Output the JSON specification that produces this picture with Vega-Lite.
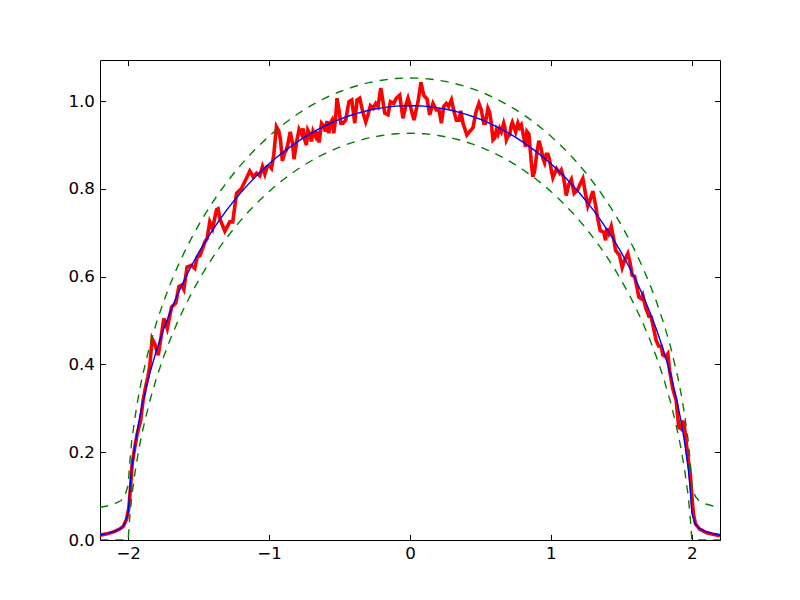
{
  "$schema": "https://vega.github.io/schema/vega-lite/v6.json",
  "width": 620,
  "height": 480,
  "autosize": "none",
  "padding": {"left": 100, "top": 60, "right": 80, "bottom": 60},
  "background": "white",
  "config": {
    "view": {"stroke": "black", "strokeWidth": 1},
    "axis": {"grid": false, "domain": false, "tickColor": "black", "labelColor": "black", "labelFont": "DejaVu Sans", "labelFontSize": 16.67, "tickSize": -5.6, "labelPadding": 11.2, "tickWidth": 1}
  },
  "datasets": {
    "red": [
      {"x":-2.200,"y":0.011},{"x":-2.150,"y":0.014},{"x":-2.100,"y":0.019},{"x":-2.060,"y":0.025},{"x":-2.035,"y":0.031},{"x":-2.011,"y":0.048},{"x":-1.995,"y":0.074},{"x":-1.983,"y":0.120},{"x":-1.972,"y":0.173},{"x":-1.957,"y":0.204},{"x":-1.936,"y":0.242},{"x":-1.912,"y":0.272},{"x":-1.894,"y":0.318},{"x":-1.877,"y":0.348},{"x":-1.860,"y":0.372},{"x":-1.846,"y":0.398},{"x":-1.830,"y":0.459},{"x":-1.811,"y":0.447},{"x":-1.787,"y":0.421},{"x":-1.763,"y":0.470},{"x":-1.747,"y":0.505},{"x":-1.723,"y":0.482},{"x":-1.692,"y":0.531},{"x":-1.662,"y":0.540},{"x":-1.640,"y":0.578},{"x":-1.621,"y":0.581},{"x":-1.605,"y":0.571},{"x":-1.582,"y":0.622},{"x":-1.551,"y":0.626},{"x":-1.527,"y":0.619},{"x":-1.510,"y":0.645},{"x":-1.491,"y":0.648},{"x":-1.475,"y":0.662},{"x":-1.456,"y":0.679},{"x":-1.440,"y":0.687},{"x":-1.421,"y":0.725},{"x":-1.401,"y":0.710},{"x":-1.373,"y":0.753},{"x":-1.362,"y":0.755},{"x":-1.350,"y":0.733},{"x":-1.314,"y":0.704},{"x":-1.279,"y":0.725},{"x":-1.258,"y":0.725},{"x":-1.231,"y":0.790},{"x":-1.196,"y":0.801},{"x":-1.160,"y":0.825},{"x":-1.137,"y":0.841},{"x":-1.113,"y":0.828},{"x":-1.089,"y":0.836},{"x":-1.066,"y":0.830},{"x":-1.047,"y":0.851},{"x":-1.030,"y":0.834},{"x":-1.014,"y":0.851},{"x":-0.995,"y":0.852},{"x":-0.983,"y":0.847},{"x":-0.967,"y":0.877},{"x":-0.948,"y":0.942},{"x":-0.931,"y":0.932},{"x":-0.919,"y":0.912},{"x":-0.906,"y":0.864},{"x":-0.889,"y":0.883},{"x":-0.877,"y":0.889},{"x":-0.865,"y":0.905},{"x":-0.850,"y":0.930},{"x":-0.834,"y":0.905},{"x":-0.823,"y":0.868},{"x":-0.806,"y":0.905},{"x":-0.787,"y":0.936},{"x":-0.770,"y":0.925},{"x":-0.759,"y":0.938},{"x":-0.747,"y":0.912},{"x":-0.735,"y":0.900},{"x":-0.725,"y":0.934},{"x":-0.711,"y":0.925},{"x":-0.699,"y":0.908},{"x":-0.688,"y":0.932},{"x":-0.669,"y":0.919},{"x":-0.660,"y":0.931},{"x":-0.645,"y":0.906},{"x":-0.628,"y":0.950},{"x":-0.612,"y":0.944},{"x":-0.600,"y":0.931},{"x":-0.589,"y":0.955},{"x":-0.577,"y":0.927},{"x":-0.565,"y":0.950},{"x":-0.553,"y":0.957},{"x":-0.541,"y":0.927},{"x":-0.529,"y":0.957},{"x":-0.518,"y":1.007},{"x":-0.504,"y":0.980},{"x":-0.491,"y":0.950},{"x":-0.475,"y":0.950},{"x":-0.456,"y":0.957},{"x":-0.444,"y":0.980},{"x":-0.433,"y":0.999},{"x":-0.413,"y":1.003},{"x":-0.392,"y":0.950},{"x":-0.376,"y":1.003},{"x":-0.357,"y":1.007},{"x":-0.333,"y":0.973},{"x":-0.314,"y":0.953},{"x":-0.298,"y":0.969},{"x":-0.281,"y":0.990},{"x":-0.262,"y":0.984},{"x":-0.243,"y":0.995},{"x":-0.227,"y":0.988},{"x":-0.207,"y":1.030},{"x":-0.179,"y":0.973},{"x":-0.156,"y":0.969},{"x":-0.139,"y":0.999},{"x":-0.116,"y":0.995},{"x":-0.096,"y":1.007},{"x":-0.073,"y":1.014},{"x":-0.050,"y":0.961},{"x":-0.026,"y":0.995},{"x":-0.014,"y":1.007},{"x":0.003,"y":0.988},{"x":0.028,"y":0.957},{"x":0.057,"y":0.999},{"x":0.078,"y":1.043},{"x":0.097,"y":1.014},{"x":0.121,"y":1.005},{"x":0.140,"y":0.969},{"x":0.163,"y":0.995},{"x":0.187,"y":0.980},{"x":0.206,"y":0.980},{"x":0.223,"y":0.950},{"x":0.239,"y":0.988},{"x":0.258,"y":0.995},{"x":0.274,"y":0.988},{"x":0.294,"y":1.003},{"x":0.310,"y":0.980},{"x":0.329,"y":0.957},{"x":0.348,"y":0.957},{"x":0.360,"y":0.978},{"x":0.376,"y":0.950},{"x":0.404,"y":0.923},{"x":0.423,"y":0.931},{"x":0.447,"y":0.940},{"x":0.468,"y":0.975},{"x":0.489,"y":0.995},{"x":0.506,"y":0.980},{"x":0.523,"y":0.950},{"x":0.535,"y":0.950},{"x":0.553,"y":0.984},{"x":0.565,"y":0.975},{"x":0.577,"y":0.950},{"x":0.589,"y":0.912},{"x":0.601,"y":0.916},{"x":0.613,"y":0.934},{"x":0.624,"y":0.925},{"x":0.636,"y":0.938},{"x":0.648,"y":0.930},{"x":0.665,"y":0.950},{"x":0.672,"y":0.942},{"x":0.684,"y":0.912},{"x":0.695,"y":0.920},{"x":0.707,"y":0.923},{"x":0.719,"y":0.946},{"x":0.726,"y":0.952},{"x":0.750,"y":0.930},{"x":0.766,"y":0.950},{"x":0.778,"y":0.940},{"x":0.790,"y":0.946},{"x":0.806,"y":0.920},{"x":0.821,"y":0.896},{"x":0.830,"y":0.931},{"x":0.844,"y":0.925},{"x":0.861,"y":0.860},{"x":0.872,"y":0.828},{"x":0.884,"y":0.840},{"x":0.901,"y":0.885},{"x":0.915,"y":0.910},{"x":0.932,"y":0.890},{"x":0.943,"y":0.870},{"x":0.955,"y":0.860},{"x":0.967,"y":0.879},{"x":0.979,"y":0.879},{"x":0.991,"y":0.866},{"x":1.003,"y":0.843},{"x":1.014,"y":0.826},{"x":1.040,"y":0.846},{"x":1.062,"y":0.836},{"x":1.074,"y":0.843},{"x":1.090,"y":0.826},{"x":1.109,"y":0.785},{"x":1.126,"y":0.810},{"x":1.145,"y":0.822},{"x":1.165,"y":0.790},{"x":1.188,"y":0.797},{"x":1.210,"y":0.813},{"x":1.227,"y":0.824},{"x":1.245,"y":0.790},{"x":1.262,"y":0.761},{"x":1.276,"y":0.773},{"x":1.298,"y":0.795},{"x":1.317,"y":0.763},{"x":1.333,"y":0.731},{"x":1.350,"y":0.705},{"x":1.374,"y":0.702},{"x":1.388,"y":0.683},{"x":1.397,"y":0.710},{"x":1.411,"y":0.699},{"x":1.428,"y":0.715},{"x":1.445,"y":0.687},{"x":1.459,"y":0.660},{"x":1.487,"y":0.649},{"x":1.506,"y":0.621},{"x":1.523,"y":0.638},{"x":1.546,"y":0.653},{"x":1.563,"y":0.630},{"x":1.577,"y":0.603},{"x":1.594,"y":0.601},{"x":1.610,"y":0.577},{"x":1.624,"y":0.554},{"x":1.641,"y":0.550},{"x":1.652,"y":0.558},{"x":1.671,"y":0.531},{"x":1.695,"y":0.510},{"x":1.712,"y":0.508},{"x":1.728,"y":0.484},{"x":1.747,"y":0.455},{"x":1.765,"y":0.442},{"x":1.783,"y":0.441},{"x":1.794,"y":0.422},{"x":1.813,"y":0.418},{"x":1.830,"y":0.425},{"x":1.842,"y":0.387},{"x":1.865,"y":0.345},{"x":1.889,"y":0.318},{"x":1.897,"y":0.290},{"x":1.908,"y":0.257},{"x":1.925,"y":0.253},{"x":1.936,"y":0.272},{"x":1.948,"y":0.257},{"x":1.972,"y":0.189},{"x":1.989,"y":0.151},{"x":2.003,"y":0.090},{"x":2.012,"y":0.059},{"x":2.026,"y":0.037},{"x":2.055,"y":0.025},{"x":2.102,"y":0.017},{"x":2.150,"y":0.013},{"x":2.200,"y":0.010}
    ],
    "blue": [
      {"x":-2.2,"y":0.0115},{"x":-2.15,"y":0.0145},{"x":-2.1,"y":0.019},{"x":-2.05,"y":0.027},{"x":-2.025,"y":0.036},{"x":-2.0,"y":0.062},{"x":-1.99,"y":0.110},{"x":-1.975,"y":0.162},{"x":-1.95,"y":0.220},{"x":-1.925,"y":0.2686},{"x":-1.9,"y":0.3091},{"x":-1.85,"y":0.3762},{"x":-1.8,"y":0.4315},{"x":-1.75,"y":0.4793},{"x":-1.7,"y":0.5215},{"x":-1.65,"y":0.5595},{"x":-1.6,"y":0.594},{"x":-1.55,"y":0.6256},{"x":-1.5,"y":0.6548},{"x":-1.45,"y":0.6819},{"x":-1.4,"y":0.707},{"x":-1.35,"y":0.7304},{"x":-1.3,"y":0.7523},{"x":-1.25,"y":0.7728},{"x":-1.2,"y":0.792},{"x":-1.15,"y":0.81},{"x":-1.1,"y":0.8268},{"x":-1.05,"y":0.8426},{"x":-1.0,"y":0.8574},{"x":-0.95,"y":0.8712},{"x":-0.9,"y":0.8841},{"x":-0.85,"y":0.8961},{"x":-0.8,"y":0.9074},{"x":-0.75,"y":0.9178},{"x":-0.7,"y":0.9274},{"x":-0.65,"y":0.9363},{"x":-0.6,"y":0.9444},{"x":-0.55,"y":0.9518},{"x":-0.5,"y":0.9586},{"x":-0.45,"y":0.9646},{"x":-0.4,"y":0.97},{"x":-0.35,"y":0.9747},{"x":-0.3,"y":0.9788},{"x":-0.25,"y":0.9822},{"x":-0.2,"y":0.985},{"x":-0.15,"y":0.9872},{"x":-0.1,"y":0.9888},{"x":-0.05,"y":0.9897},{"x":0.0,"y":0.99},{"x":0.05,"y":0.9897},{"x":0.1,"y":0.9888},{"x":0.15,"y":0.9872},{"x":0.2,"y":0.985},{"x":0.25,"y":0.9822},{"x":0.3,"y":0.9788},{"x":0.35,"y":0.9747},{"x":0.4,"y":0.97},{"x":0.45,"y":0.9646},{"x":0.5,"y":0.9586},{"x":0.55,"y":0.9518},{"x":0.6,"y":0.9444},{"x":0.65,"y":0.9363},{"x":0.7,"y":0.9274},{"x":0.75,"y":0.9178},{"x":0.8,"y":0.9074},{"x":0.85,"y":0.8961},{"x":0.9,"y":0.8841},{"x":0.95,"y":0.8712},{"x":1.0,"y":0.8574},{"x":1.05,"y":0.8426},{"x":1.1,"y":0.8268},{"x":1.15,"y":0.81},{"x":1.2,"y":0.792},{"x":1.25,"y":0.7728},{"x":1.3,"y":0.7523},{"x":1.35,"y":0.7304},{"x":1.4,"y":0.707},{"x":1.45,"y":0.6819},{"x":1.5,"y":0.6548},{"x":1.55,"y":0.6256},{"x":1.6,"y":0.594},{"x":1.65,"y":0.5595},{"x":1.7,"y":0.5215},{"x":1.75,"y":0.4793},{"x":1.8,"y":0.4315},{"x":1.85,"y":0.3762},{"x":1.9,"y":0.3091},{"x":1.925,"y":0.2686},{"x":1.95,"y":0.220},{"x":1.975,"y":0.162},{"x":1.99,"y":0.110},{"x":2.0,"y":0.062},{"x":2.025,"y":0.036},{"x":2.05,"y":0.027},{"x":2.1,"y":0.019},{"x":2.15,"y":0.0145},{"x":2.2,"y":0.0115}
    ],
    "green": [
      {"b":"upper","x":-2.2,"y":0.0745},{"b":"upper","x":-2.15,"y":0.0775},{"b":"upper","x":-2.1,"y":0.082},{"b":"upper","x":-2.05,"y":0.090},{"b":"upper","x":-2.025,"y":0.099},{"b":"upper","x":-2.0,"y":0.125},{"b":"upper","x":-1.99,"y":0.173},{"b":"upper","x":-1.975,"y":0.225},{"b":"upper","x":-1.95,"y":0.283},{"b":"upper","x":-1.925,"y":0.3316},{"b":"upper","x":-1.9,"y":0.3721},{"b":"upper","x":-1.85,"y":0.4392},{"b":"upper","x":-1.8,"y":0.4945},{"b":"upper","x":-1.75,"y":0.5423},{"b":"upper","x":-1.7,"y":0.5845},{"b":"upper","x":-1.65,"y":0.6225},{"b":"upper","x":-1.6,"y":0.657},{"b":"upper","x":-1.55,"y":0.6886},{"b":"upper","x":-1.5,"y":0.7178},{"b":"upper","x":-1.45,"y":0.7449},{"b":"upper","x":-1.4,"y":0.77},{"b":"upper","x":-1.35,"y":0.7934},{"b":"upper","x":-1.3,"y":0.8153},{"b":"upper","x":-1.25,"y":0.8358},{"b":"upper","x":-1.2,"y":0.855},{"b":"upper","x":-1.15,"y":0.873},{"b":"upper","x":-1.1,"y":0.8898},{"b":"upper","x":-1.05,"y":0.9056},{"b":"upper","x":-1.0,"y":0.9204},{"b":"upper","x":-0.95,"y":0.9342},{"b":"upper","x":-0.9,"y":0.9471},{"b":"upper","x":-0.85,"y":0.9591},{"b":"upper","x":-0.8,"y":0.9704},{"b":"upper","x":-0.75,"y":0.9808},{"b":"upper","x":-0.7,"y":0.9904},{"b":"upper","x":-0.65,"y":0.9993},{"b":"upper","x":-0.6,"y":1.0074},{"b":"upper","x":-0.55,"y":1.0148},{"b":"upper","x":-0.5,"y":1.0216},{"b":"upper","x":-0.45,"y":1.0276},{"b":"upper","x":-0.4,"y":1.033},{"b":"upper","x":-0.35,"y":1.0377},{"b":"upper","x":-0.3,"y":1.0418},{"b":"upper","x":-0.25,"y":1.0452},{"b":"upper","x":-0.2,"y":1.048},{"b":"upper","x":-0.15,"y":1.0502},{"b":"upper","x":-0.1,"y":1.0518},{"b":"upper","x":-0.05,"y":1.0527},{"b":"upper","x":0.0,"y":1.053},{"b":"upper","x":0.05,"y":1.0527},{"b":"upper","x":0.1,"y":1.0518},{"b":"upper","x":0.15,"y":1.0502},{"b":"upper","x":0.2,"y":1.048},{"b":"upper","x":0.25,"y":1.0452},{"b":"upper","x":0.3,"y":1.0418},{"b":"upper","x":0.35,"y":1.0377},{"b":"upper","x":0.4,"y":1.033},{"b":"upper","x":0.45,"y":1.0276},{"b":"upper","x":0.5,"y":1.0216},{"b":"upper","x":0.55,"y":1.0148},{"b":"upper","x":0.6,"y":1.0074},{"b":"upper","x":0.65,"y":0.9993},{"b":"upper","x":0.7,"y":0.9904},{"b":"upper","x":0.75,"y":0.9808},{"b":"upper","x":0.8,"y":0.9704},{"b":"upper","x":0.85,"y":0.9591},{"b":"upper","x":0.9,"y":0.9471},{"b":"upper","x":0.95,"y":0.9342},{"b":"upper","x":1.0,"y":0.9204},{"b":"upper","x":1.05,"y":0.9056},{"b":"upper","x":1.1,"y":0.8898},{"b":"upper","x":1.15,"y":0.873},{"b":"upper","x":1.2,"y":0.855},{"b":"upper","x":1.25,"y":0.8358},{"b":"upper","x":1.3,"y":0.8153},{"b":"upper","x":1.35,"y":0.7934},{"b":"upper","x":1.4,"y":0.77},{"b":"upper","x":1.45,"y":0.7449},{"b":"upper","x":1.5,"y":0.7178},{"b":"upper","x":1.55,"y":0.6886},{"b":"upper","x":1.6,"y":0.657},{"b":"upper","x":1.65,"y":0.6225},{"b":"upper","x":1.7,"y":0.5845},{"b":"upper","x":1.75,"y":0.5423},{"b":"upper","x":1.8,"y":0.4945},{"b":"upper","x":1.85,"y":0.4392},{"b":"upper","x":1.9,"y":0.3721},{"b":"upper","x":1.925,"y":0.3316},{"b":"upper","x":1.95,"y":0.283},{"b":"upper","x":1.975,"y":0.225},{"b":"upper","x":1.99,"y":0.173},{"b":"upper","x":2.0,"y":0.125},{"b":"upper","x":2.025,"y":0.099},{"b":"upper","x":2.05,"y":0.090},{"b":"upper","x":2.1,"y":0.082},{"b":"upper","x":2.15,"y":0.0775},{"b":"upper","x":2.2,"y":0.0745},
      {"b":"lower","x":-2.2,"y":0},{"b":"lower","x":-2.1,"y":0},{"b":"lower","x":-2.0,"y":0},{"b":"lower","x":-1.99,"y":0.047},{"b":"lower","x":-1.975,"y":0.099},{"b":"lower","x":-1.95,"y":0.157},{"b":"lower","x":-1.925,"y":0.2056},{"b":"lower","x":-1.9,"y":0.2461},{"b":"lower","x":-1.85,"y":0.3132},{"b":"lower","x":-1.8,"y":0.3685},{"b":"lower","x":-1.75,"y":0.4163},{"b":"lower","x":-1.7,"y":0.4585},{"b":"lower","x":-1.65,"y":0.4965},{"b":"lower","x":-1.6,"y":0.531},{"b":"lower","x":-1.55,"y":0.5626},{"b":"lower","x":-1.5,"y":0.5918},{"b":"lower","x":-1.45,"y":0.6189},{"b":"lower","x":-1.4,"y":0.644},{"b":"lower","x":-1.35,"y":0.6674},{"b":"lower","x":-1.3,"y":0.6893},{"b":"lower","x":-1.25,"y":0.7098},{"b":"lower","x":-1.2,"y":0.729},{"b":"lower","x":-1.15,"y":0.747},{"b":"lower","x":-1.1,"y":0.7638},{"b":"lower","x":-1.05,"y":0.7796},{"b":"lower","x":-1.0,"y":0.7944},{"b":"lower","x":-0.95,"y":0.8082},{"b":"lower","x":-0.9,"y":0.8211},{"b":"lower","x":-0.85,"y":0.8331},{"b":"lower","x":-0.8,"y":0.8444},{"b":"lower","x":-0.75,"y":0.8548},{"b":"lower","x":-0.7,"y":0.8644},{"b":"lower","x":-0.65,"y":0.8733},{"b":"lower","x":-0.6,"y":0.8814},{"b":"lower","x":-0.55,"y":0.8888},{"b":"lower","x":-0.5,"y":0.8956},{"b":"lower","x":-0.45,"y":0.9016},{"b":"lower","x":-0.4,"y":0.907},{"b":"lower","x":-0.35,"y":0.9117},{"b":"lower","x":-0.3,"y":0.9158},{"b":"lower","x":-0.25,"y":0.9192},{"b":"lower","x":-0.2,"y":0.922},{"b":"lower","x":-0.15,"y":0.9242},{"b":"lower","x":-0.1,"y":0.9258},{"b":"lower","x":-0.05,"y":0.9267},{"b":"lower","x":0.0,"y":0.927},{"b":"lower","x":0.05,"y":0.9267},{"b":"lower","x":0.1,"y":0.9258},{"b":"lower","x":0.15,"y":0.9242},{"b":"lower","x":0.2,"y":0.922},{"b":"lower","x":0.25,"y":0.9192},{"b":"lower","x":0.3,"y":0.9158},{"b":"lower","x":0.35,"y":0.9117},{"b":"lower","x":0.4,"y":0.907},{"b":"lower","x":0.45,"y":0.9016},{"b":"lower","x":0.5,"y":0.8956},{"b":"lower","x":0.55,"y":0.8888},{"b":"lower","x":0.6,"y":0.8814},{"b":"lower","x":0.65,"y":0.8733},{"b":"lower","x":0.7,"y":0.8644},{"b":"lower","x":0.75,"y":0.8548},{"b":"lower","x":0.8,"y":0.8444},{"b":"lower","x":0.85,"y":0.8331},{"b":"lower","x":0.9,"y":0.8211},{"b":"lower","x":0.95,"y":0.8082},{"b":"lower","x":1.0,"y":0.7944},{"b":"lower","x":1.05,"y":0.7796},{"b":"lower","x":1.1,"y":0.7638},{"b":"lower","x":1.15,"y":0.747},{"b":"lower","x":1.2,"y":0.729},{"b":"lower","x":1.25,"y":0.7098},{"b":"lower","x":1.3,"y":0.6893},{"b":"lower","x":1.35,"y":0.6674},{"b":"lower","x":1.4,"y":0.644},{"b":"lower","x":1.45,"y":0.6189},{"b":"lower","x":1.5,"y":0.5918},{"b":"lower","x":1.55,"y":0.5626},{"b":"lower","x":1.6,"y":0.531},{"b":"lower","x":1.65,"y":0.4965},{"b":"lower","x":1.7,"y":0.4585},{"b":"lower","x":1.75,"y":0.4163},{"b":"lower","x":1.8,"y":0.3685},{"b":"lower","x":1.85,"y":0.3132},{"b":"lower","x":1.9,"y":0.2461},{"b":"lower","x":1.925,"y":0.2056},{"b":"lower","x":1.95,"y":0.157},{"b":"lower","x":1.975,"y":0.099},{"b":"lower","x":1.99,"y":0.047},{"b":"lower","x":2.0,"y":0},{"b":"lower","x":2.1,"y":0},{"b":"lower","x":2.2,"y":0}
    ]
  },
  "resolve": {"axis": {"x": "independent", "y": "independent"}},
  "layer": [
    {
      "data": {"name": "red"},
      "mark": {"type": "line", "color": "#ff0000", "strokeWidth": 3.6, "clip": true},
      "encoding": {
        "x": {"field": "x", "type": "quantitative", "scale": {"domain": [-2.2, 2.2], "nice": false, "zero": false},
              "axis": {"orient": "bottom", "values": [-2, -1, 0, 1, 2], "format": "d", "title": null}},
        "y": {"field": "y", "type": "quantitative", "scale": {"domain": [0, 1.094], "nice": false},
              "axis": {"orient": "left", "values": [0, 0.2, 0.4, 0.6, 0.8, 1.0], "format": ".1f", "title": null}}
      }
    },
    {
      "data": {"name": "blue"},
      "mark": {"type": "line", "color": "#0000ff", "strokeWidth": 1.4, "clip": true},
      "encoding": {
        "x": {"field": "x", "type": "quantitative", "scale": {"domain": [-2.2, 2.2], "nice": false, "zero": false},
              "axis": {"orient": "top", "values": [-2, -1, 0, 1, 2], "labels": false, "title": null}},
        "y": {"field": "y", "type": "quantitative", "scale": {"domain": [0, 1.094], "nice": false},
              "axis": {"orient": "right", "values": [0, 0.2, 0.4, 0.6, 0.8, 1.0], "labels": false, "title": null}}
      }
    },
    {
      "data": {"name": "green"},
      "mark": {"type": "line", "color": "#008000", "strokeWidth": 1.4, "strokeDash": [8.3, 7], "clip": true},
      "encoding": {
        "x": {"field": "x", "type": "quantitative", "scale": {"domain": [-2.2, 2.2], "nice": false, "zero": false}, "axis": null},
        "y": {"field": "y", "type": "quantitative", "scale": {"domain": [0, 1.094], "nice": false}, "axis": null},
        "detail": {"field": "b", "type": "nominal"}
      }
    }
  ]
}
